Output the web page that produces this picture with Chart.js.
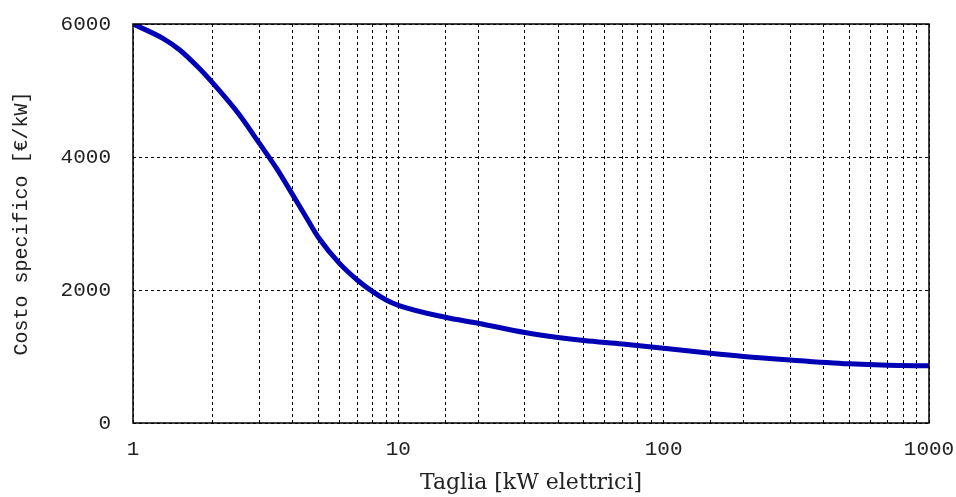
<!DOCTYPE html>
<html>
<head>
<meta charset="utf-8">
<script src="https://cdn.jsdelivr.net/npm/chart.js@4/dist/chart.umd.min.js"></script>
<style>
  html, body { margin: 0; padding: 0; background: #fff; }
  #wrap { width: 956px; height: 497px; }
</style>
</head>
<body>
<div id="wrap"><canvas id="costChart"></canvas></div>
<script>
// taglia in kW elettrici, costo specifico in €/kW
const sizes = [1, 1.3, 1.5, 1.75, 2, 2.5, 3, 3.5, 4, 4.5, 5, 6, 7, 8, 9, 10, 15, 20, 30, 40, 50, 70, 100, 150, 200, 300, 500, 700, 1000];
const costs = [6000, 5780, 5610, 5360, 5110, 4650, 4200, 3810, 3430, 3090, 2790, 2400, 2150, 1975, 1850, 1770, 1590, 1500, 1360, 1285, 1240, 1188, 1125, 1048, 1000, 947, 890, 868, 860];
const majorTicks = [1, 10, 100, 1000];
const yTicks = [0, 2000, 4000, 6000];

const points = sizes.map((s, i) => ({ x: s, y: costs[i] }));

// solid frame round the plot area
const frame = {
  id: "frame",
  afterDatasetsDraw(chart) {
    const a = chart.chartArea;
    const ctx = chart.ctx;
    ctx.save();
    ctx.strokeStyle = "#000";
    ctx.lineWidth = 1.5;
    ctx.setLineDash([]);
    ctx.strokeRect(a.left, a.top, a.right - a.left, a.bottom - a.top);
    ctx.restore();
  }
};

new Chart(document.getElementById("costChart"), {
  type: "line",
  data: {
    datasets: [{
      data: points,
      borderColor: "#0000b4",
      borderWidth: 5,
      pointRadius: 0,
      fill: false,
      cubicInterpolationMode: "monotone"
    }]
  },
  options: {
    responsive: true,
    maintainAspectRatio: false,
    animation: false,
    layout: { padding: { left: 0, top: 24, right: 27, bottom: 0 } },
    plugins: { legend: { display: false }, tooltip: { enabled: false } },
    scales: {
      x: {
        type: "logarithmic",
        min: 1,
        max: 1000,
        afterFit: s => {
          s.height = 74;
          s.paddingLeft = 0;
          s.paddingRight = 0;
        },
        grid: {
          color: "#000",
          lineWidth: 1,
          drawTicks: false
        },
        border: { display: false, dash: [3, 3] },
        ticks: {
          autoSkip: false,
          maxRotation: 0,
          padding: 14,
          color: "#222",
          font: { family: "Liberation Mono", size: 21 },
          callback: v => majorTicks.includes(v) ? String(v) : ""
        },
        title: {
          display: true,
          text: "Taglia [kW elettrici]",
          color: "#222",
          font: { family: "DejaVu Serif", size: 22 },
          padding: { top: 0, bottom: 1 }
        }
      },
      y: {
        min: 0,
        max: 6000,
        afterFit: s => {
          s.width = 133;
          s.paddingTop = 0;
          s.paddingBottom = 0;
        },
        afterBuildTicks: s => { s.ticks = yTicks.map(v => ({ value: v })); },
        grid: {
          color: "#000",
          lineWidth: 1,
          drawTicks: false
        },
        border: { display: false, dash: [3, 3] },
        ticks: {
          padding: 22,
          color: "#222",
          font: { family: "Liberation Mono", size: 21 },
          callback: v => String(v)
        },
        title: {
          display: true,
          text: "Costo specifico [€/kW]",
          color: "#222",
          font: { family: "Liberation Mono", size: 20 },
          padding: { top: 10, bottom: 0 }
        }
      }
    }
  },
  plugins: [frame]
});
</script>
</body>
</html>
